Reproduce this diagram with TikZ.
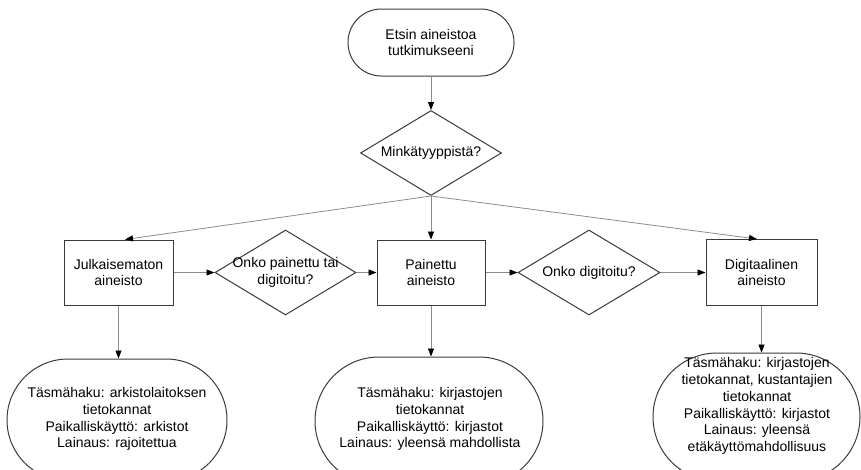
\documentclass[tikz,border=0pt]{standalone}
\usepackage{fontspec}
\setmainfont{Liberation Sans}
\usetikzlibrary{shapes.geometric,arrows.meta,calc}
\definecolor{edgegray}{HTML}{3A3A3A}
\definecolor{conngray}{HTML}{8C8C8C}
\begin{document}
\begin{tikzpicture}[x=0.75pt,y=-0.75pt,
  font=\fontsize{10.5pt}{12.6pt}\selectfont,
  box/.style={draw=edgegray,line width=0.75pt,rectangle,inner sep=0pt,align=center},
  term/.style={draw=edgegray,line width=0.75pt,rectangle,inner sep=0pt},
  dec/.style={draw=edgegray,line width=0.75pt,diamond,inner sep=0pt,minimum width=105.75pt,minimum height=63.75pt},
  txt/.style={align=center,inner sep=0pt},
  conn/.style={draw=conngray,line width=0.6pt,-{Triangle[length=6pt,width=4.5pt,color=black]}}]
\useasboundingbox (0,0) rectangle (861,469);
\clip (0,0) rectangle (861,469);
% top row
\node[term,align=center,rounded corners=25pt,minimum width=124.5pt,minimum height=50.25pt] (S) at (431,42.5) {Etsin aineistoa\\tutkimukseeni};
\node[dec] (D1) at (431,153) {\makebox[0pt]{Minkätyyppistä?}};
% middle row
\node[box,minimum width=81.75pt,minimum height=48.75pt] (J) at (118.5,272.5) {Julkaisematon\\aineisto};
\node[dec] (D2) at (285.5,272.5) {\makebox[0pt]{\begin{tabular}{@{}c@{}}Onko painettu tai\\digitoitu?\end{tabular}}};
\node[box,minimum width=81pt,minimum height=48.75pt] (P) at (431,272.5) {Painettu\\aineisto};
\node[dec,minimum width=106.5pt] (D3) at (589,272.5) {\makebox[0pt]{Onko digitoitu?}};
\node[box,minimum width=83.25pt,minimum height=49.5pt] (G) at (761.5,272.5) {Digitaalinen\\aineisto};
% bottom row
\node[term,rounded corners=45.75pt,minimum width=165pt,minimum height=91.5pt] (L) at (117,420) {};
\node[txt] (Lt) at (117,419) {Täsmähaku: arkistolaitoksen\\tietokannat\\Paikalliskäyttö: arkistot\\Lainaus: rajoitettua};
\node[term,rounded corners=48pt,minimum width=171pt,minimum height=96pt] (M) at (429,421) {};
\node[txt] (Mt) at (430,419) {Täsmähaku: kirjastojen\\tietokannat\\Paikalliskäyttö: kirjastot\\Lainaus: yleensä mahdollista};
\node[term,rounded corners=48pt,minimum width=155.25pt,minimum height=96pt] (R) at (756.5,417) {};
\node[txt] (Rt) at (757,406) {Täsmähaku: kirjastojen\\tietokannat, kustantajien\\tietokannat\\Paikalliskäyttö: kirjastot\\Lainaus: yleensä\\etäkäyttömahdollisuus};
% connectors
\draw[conn] (S.south) -- (D1.north);
\draw[conn] (D1.south) -- ($(J.north)+(6.5,0)$);
\draw[conn] (D1.south) -- (P.north);
\draw[conn] (D1.south) -- ($(G.north)+(-4.5,0)$);
\draw[conn] (J.east) -- (D2.west);
\draw[conn] (D2.east) -- (P.west);
\draw[conn] (P.east) -- (D3.west);
\draw[conn] (D3.east) -- (G.west);
\draw[conn] (J.south) -- (J.south |- L.north);
\draw[conn] (P.south) -- (P.south |- M.north);
\draw[conn] (G.south) -- (G.south |- R.north);
\end{tikzpicture}
\end{document}
